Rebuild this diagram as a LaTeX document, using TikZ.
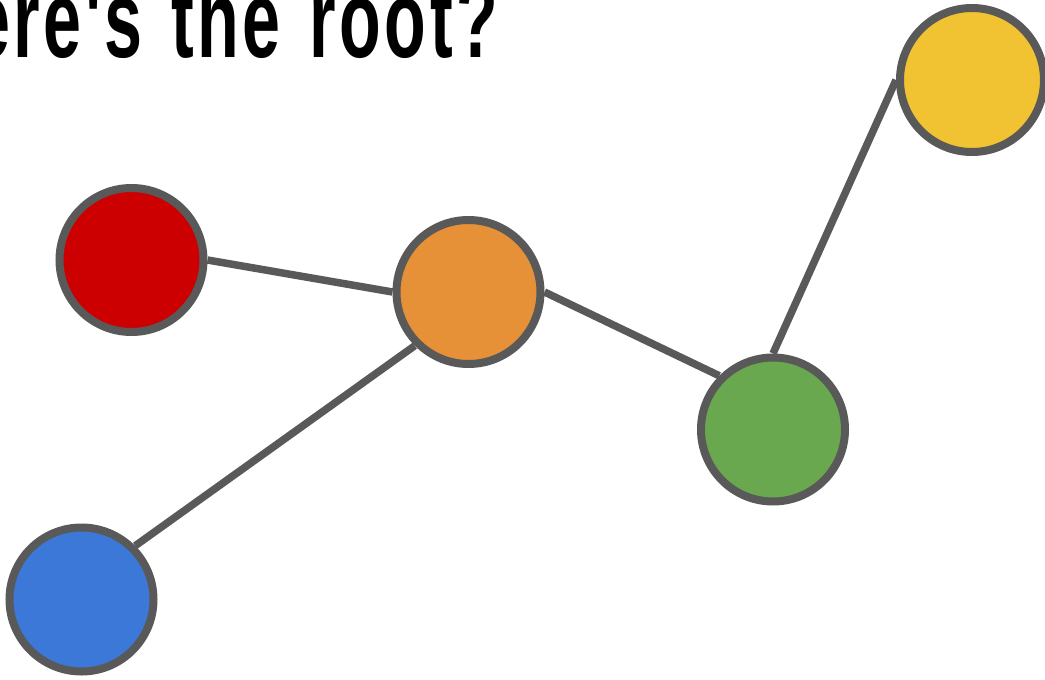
\documentclass[tikz,border=0pt]{standalone}
\usepackage{fontspec}
\usepackage{graphicx}
\newfontfamily\titlefont[LetterSpace=5,WordSpace=1.3]{Liberation Sans Bold}
\definecolor{edgegray}{HTML}{595959}
\definecolor{vred}{HTML}{CC0000}
\definecolor{vorange}{HTML}{E69138}
\definecolor{vgreen}{HTML}{6AA84F}
\definecolor{vyellow}{HTML}{F1C232}
\definecolor{vblue}{HTML}{3C78D8}
\begin{document}
\begin{tikzpicture}[x=1pt,y=-1pt,
  vertex/.style={circle,draw=edgegray,line width=8pt,inner sep=0pt,minimum size=144pt},
  link/.style={draw=edgegray,line width=7.5pt}]
\useasboundingbox (0,0) rectangle (1045,680);
\clip (0,0) rectangle (1045,680);

% title
\node[anchor=base east,inner sep=0pt] (title) at (498,57)
  {\titlefont\fontsize{110}{110}\selectfont\scalebox{0.62}[1]{Where's the root?}};

% vertices
\node[vertex,fill=vred]    (red)    at (131.5,260) {};
\node[vertex,fill=vorange] (orange) at (468.5,292) {};
\node[vertex,fill=vgreen]  (green)  at (773,429.5) {};
\node[vertex,fill=vyellow] (yellow) at (972,80) {};
\node[vertex,fill=vblue]   (blue)   at (81.5,599.5) {};

% edges
\draw[link] (red.east) -- (orange.west);
\draw[link] (orange.south west) -- (blue.north east);
\draw[link] (orange.east) -- (green.north west);
\draw[link] (green.north) -- (yellow.west);
\end{tikzpicture}
\end{document}
